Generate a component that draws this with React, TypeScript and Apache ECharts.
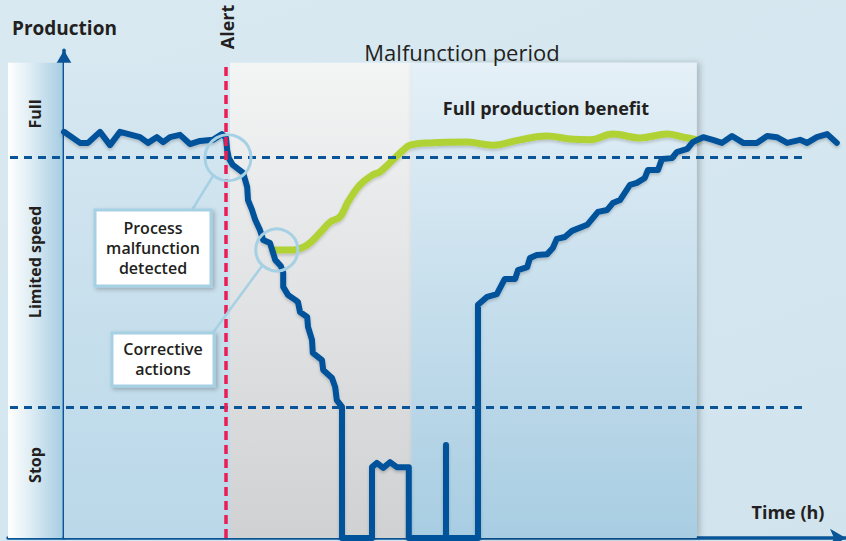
import React, { useEffect, useRef } from "react";
import * as echarts from "echarts";

// Time axis (h, arbitrary units) and production (% of full-speed threshold)
const timeRange = [-7, 97.75];
const productionRange = [0, 128];
const fullLevel = 100;
const stopLevel = 34.4;
const alertTime = 20.25;
const correctiveStart = 20.75;
const benefitStart = 43.4;
const benefitEnd = 79.1;
const panelTop = 124.7;

// Actual production with the malfunction
const blueLine: [number, number][] = [
  [0, 106.6], [2, 103.7], [3, 103.7], [4.5, 106.6], [5.75, 103.1], [7, 106.6],
  [9.5, 105.2], [10.5, 103.7], [11.6, 105.2], [12.4, 103.9], [13.25, 105.2],
  [14.5, 105.8], [15.75, 103.4], [17, 104.2], [18.6, 104.5], [19.75, 106.0],
  [20.25, 105.0], [20.4, 101.8], [20.6, 99.7], [21.1, 97.9], [22.4, 95.8],
  [22.9, 92.1], [23, 88.7], [23.5, 86.1], [23.9, 83.5], [24.5, 80.8],
  [24.9, 78.2], [25.75, 77.4], [26.1, 75.1], [26.4, 73.0], [27.1, 71.4],
  [27.4, 69.6], [27.4, 65.9], [28, 63.8], [28.9, 62.5], [29.25, 61.9],
  [29.5, 59.3], [30.4, 58.0], [30.5, 55.4], [31, 52.0], [31.1, 48.6],
  [32.25, 46.7], [32.4, 44.1], [33.5, 42.0], [33.9, 39.6], [34.1, 36.2],
  [34.75, 34.4], [34.75, 0], [38.5, 0], [38.5, 18.6], [39.1, 19.7],
  [39.9, 18.4], [40.75, 19.9], [41.6, 18.6], [43.1, 18.6], [43.1, 0],
  [47.75, 0], [47.75, 24.4], [47.75, 0], [51.75, 0], [51.75, 61.2],
  [52.9, 63.3], [54.1, 64.0], [55.1, 68.0], [56.4, 68.0], [56.75, 70.3],
  [57.9, 71.1], [58.25, 73.5], [59.1, 74.3], [60.4, 74.5], [61.1, 76.1],
  [61.6, 78.5], [62.6, 79.0], [63.5, 80.6], [65.4, 82.2], [66.75, 85.6],
  [67.9, 86.1], [68.6, 87.9], [69.5, 88.7], [70.75, 92.7], [71.6, 93.2],
  [72.6, 94.5], [73, 96.6], [74.25, 96.6], [74.75, 99.5], [76, 99.7],
  [76.6, 101.3], [77.9, 102.1], [78.6, 103.9], [79.9, 105.2], [81.1, 104.5],
  [82.25, 103.7], [83.5, 105.5], [84.9, 103.7], [86.6, 103.7], [87.9, 105.5],
  [89.1, 105.2], [90.4, 103.7], [92, 104.5], [92.9, 103.7], [94.1, 105.2],
  [95.4, 106.0], [96.6, 103.7],
];

// Production with corrective actions
const greenLine: [number, number][] = [
  [26.1, 75.6], [28.6, 75.6], [30.4, 76.9], [32, 80.1], [33.25, 82.9],
  [34.5, 84.3], [35.5, 88.2], [37, 92.7], [38.6, 95.3], [39.5, 96.1],
  [41.1, 99.2], [42.4, 101.8], [43.25, 103.1], [45.75, 103.7], [50.4, 103.9],
  [53.6, 103.1], [57, 104.5], [60.4, 105.5], [63.25, 104.7], [65.75, 104.5],
  [68.6, 106.0], [72, 105.0], [75.4, 106.0], [77.4, 105.2], [79.25, 104.5],
];

const highlightPoints: [number, number, number][] = [
  [20.5, 99.8, 46],
  [26.6, 75.6, 42],
];

const levelLabels = ["Full", "Limited speed", "Stop"];
const levelLabelY = [114, 262, 465];

const DARK = "#0a5597";
const LIGHT = "#a6d0e4";
const FONT = '"Open Sans", "Noto Sans", sans-serif';

export default function App() {
  const ref = useRef<HTMLDivElement>(null);
  useEffect(() => {
    if (!ref.current) return;
    const chart = echarts.init(ref.current, null, { renderer: "svg" });
    const vGrad = (a: string, b: string) =>
      new echarts.graphic.LinearGradient(0, 0, 0, 1, [
        { offset: 0, color: a },
        { offset: 1, color: b },
      ]);
    const txt = (
      text: string,
      x: number,
      y: number,
      size: number,
      weight: string,
      align = "center",
      rotation = 0,
      lineHeight?: number
    ) => ({
      type: "text",
      x,
      y,
      rotation,
      z: 100,
      style: {
        text,
        x: 0,
        y: 0,
        fill: "#231f20",
        fontSize: size,
        fontWeight: weight,
        fontFamily: FONT,
        lineHeight: lineHeight || size * 1.2,
        align,
        textAlign: align,
        verticalAlign: "middle",
        textVerticalAlign: "middle",
      },
    });

    const option: any = {
      animation: false,
      backgroundColor: "transparent",
      grid: { left: 8, right: 0, top: 50.3, bottom: 3, containLabel: false },
      xAxis: {
        type: "value",
        min: timeRange[0],
        max: timeRange[1],
        axisLabel: { show: false },
        axisTick: { show: false },
        splitLine: { show: false },
        axisLine: {
          show: true,
          symbol: ["none", "arrow"],
          symbolSize: [14, 16],
          lineStyle: { color: DARK, width: 3.5 },
        },
      },
      yAxis: {
        type: "value",
        min: productionRange[0],
        max: productionRange[1],
        axisLabel: { show: false },
        axisTick: { show: false },
        splitLine: { show: false },
        axisLine: {
          show: true,
          onZero: true,
          symbol: ["none", "arrow"],
          symbolSize: [14, 16],
          lineStyle: { color: DARK, width: 3.5 },
        },
      },
      series: [
        {
          type: "line",
          data: [],
          z: 1,
          silent: true,
          markArea: {
            silent: true,
            data: [
              [
                {
                  xAxis: timeRange[0],
                  yAxis: 0,
                  itemStyle: {
                    color: new echarts.graphic.LinearGradient(0, 0, 1, 0, [
                      { offset: 0, color: "#ffffff" },
                      { offset: 0.35, color: "#e4f0f6" },
                      { offset: 1, color: "#a7cde2" },
                    ]),
                  },
                },
                { xAxis: -0.2, yAxis: panelTop },
              ],
              [
                { xAxis: 0, yAxis: 0, itemStyle: { color: vGrad("#d7e8f1", "#bad8e9") } },
                { xAxis: correctiveStart, yAxis: panelTop },
              ],
              [
                { xAxis: correctiveStart, yAxis: 0, itemStyle: { color: vGrad("#f3f4f4", "#cfd1d3") } },
                { xAxis: benefitStart, yAxis: panelTop },
              ],
              [
                {
                  xAxis: benefitStart,
                  yAxis: 0,
                  itemStyle: {
                    color: vGrad("#e5f0f7", "#a8cde2"),
                    shadowBlur: 6,
                    shadowOffsetX: 3,
                    shadowOffsetY: 0,
                    shadowColor: "rgba(0,0,0,0.22)",
                  },
                },
                { xAxis: benefitEnd, yAxis: panelTop },
              ],
            ],
          },
          markLine: {
            silent: true,
            symbol: ["none", "none"],
            label: { show: false },
            data: [
              [
                { coord: [-6.75, fullLevel], lineStyle: { color: DARK, width: 3, type: [8, 6] } },
                { coord: [92.75, fullLevel] },
              ],
              [
                { coord: [-6.75, stopLevel], lineStyle: { color: DARK, width: 3, type: [8, 6] } },
                { coord: [92.75, stopLevel] },
              ],
              [
                { coord: [alertTime, 0], lineStyle: { color: "#ec1c54", width: 3.5, type: [9, 5] } },
                { coord: [alertTime, 124.9] },
              ],
            ],
          },
        },
        {
          type: "line",
          data: greenLine,
          z: 3,
          smooth: 0.4,
          showSymbol: false,
          silent: true,
          lineStyle: {
            color: "#b1d236",
            width: 7,
            cap: "round",
            join: "round",
            shadowBlur: 3,
            shadowOffsetY: 2,
            shadowColor: "rgba(0,0,0,0.18)",
          },
        },
        {
          type: "line",
          data: blueLine,
          z: 4,
          showSymbol: false,
          silent: true,
          lineStyle: {
            color: "#00529b",
            width: 6,
            cap: "round",
            join: "round",
            shadowBlur: 3,
            shadowOffsetY: 2,
            shadowColor: "rgba(0,0,0,0.2)",
          },
          markPoint: {
            silent: true,
            symbol: "circle",
            label: { show: false },
            itemStyle: { color: "rgba(0,0,0,0)", borderColor: LIGHT, borderWidth: 3 },
            data: highlightPoints.map((p) => ({ coord: [p[0], p[1]], symbolSize: p[2] })),
          },
        },
      ],
      graphic: [
        txt("Production", 12, 28, 19, "bold", "left"),
        txt("Alert", 227, 27, 18, "bold", "center", Math.PI / 2),
        txt("Malfunction period", 462, 52, 22, "normal"),
        txt("Full production benefit", 546, 108, 18, "bold"),
        txt("Time (h)", 788, 512, 18, "bold"),
        ...levelLabels.map((t, i) => txt(t, 35, levelLabelY[i], 16, "bold", "center", Math.PI / 2)),
        {
          type: "line",
          z: 90,
          shape: { x1: 192, y1: 210, x2: 213, y2: 176 },
          style: { stroke: LIGHT, lineWidth: 2.5 },
        },
        {
          type: "line",
          z: 90,
          shape: { x1: 212, y1: 334, x2: 262, y2: 266 },
          style: { stroke: LIGHT, lineWidth: 2.5 },
        },
        {
          type: "rect",
          z: 91,
          shape: { x: 95, y: 210, width: 116, height: 76 },
          style: {
            fill: "#ffffff",
            stroke: LIGHT,
            lineWidth: 3,
            shadowBlur: 4,
            shadowOffsetX: 2,
            shadowOffsetY: 2,
            shadowColor: "rgba(0,0,0,0.25)",
          },
        },
        {
          type: "rect",
          z: 91,
          shape: { x: 112, y: 333, width: 102, height: 53 },
          style: {
            fill: "#ffffff",
            stroke: LIGHT,
            lineWidth: 3,
            shadowBlur: 4,
            shadowOffsetX: 2,
            shadowOffsetY: 2,
            shadowColor: "rgba(0,0,0,0.25)",
          },
        },
        txt("Process\nmalfunction\ndetected", 153, 248, 16, "600", "center", 0, 20),
        txt("Corrective\nactions", 163, 359, 16, "600", "center", 0, 20),
      ],
    };
    chart.setOption(option);
    return () => chart.dispose();
  }, []);
  return (
    <div
      ref={ref}
      style={{
        position: "absolute",
        left: 0,
        top: 0,
        width: 846,
        height: 541,
        background: "linear-gradient(160deg, #d9e9f2 0%, #d4e6ef 60%, #d1e4ee 100%)",
      }}
    />
  );
}
